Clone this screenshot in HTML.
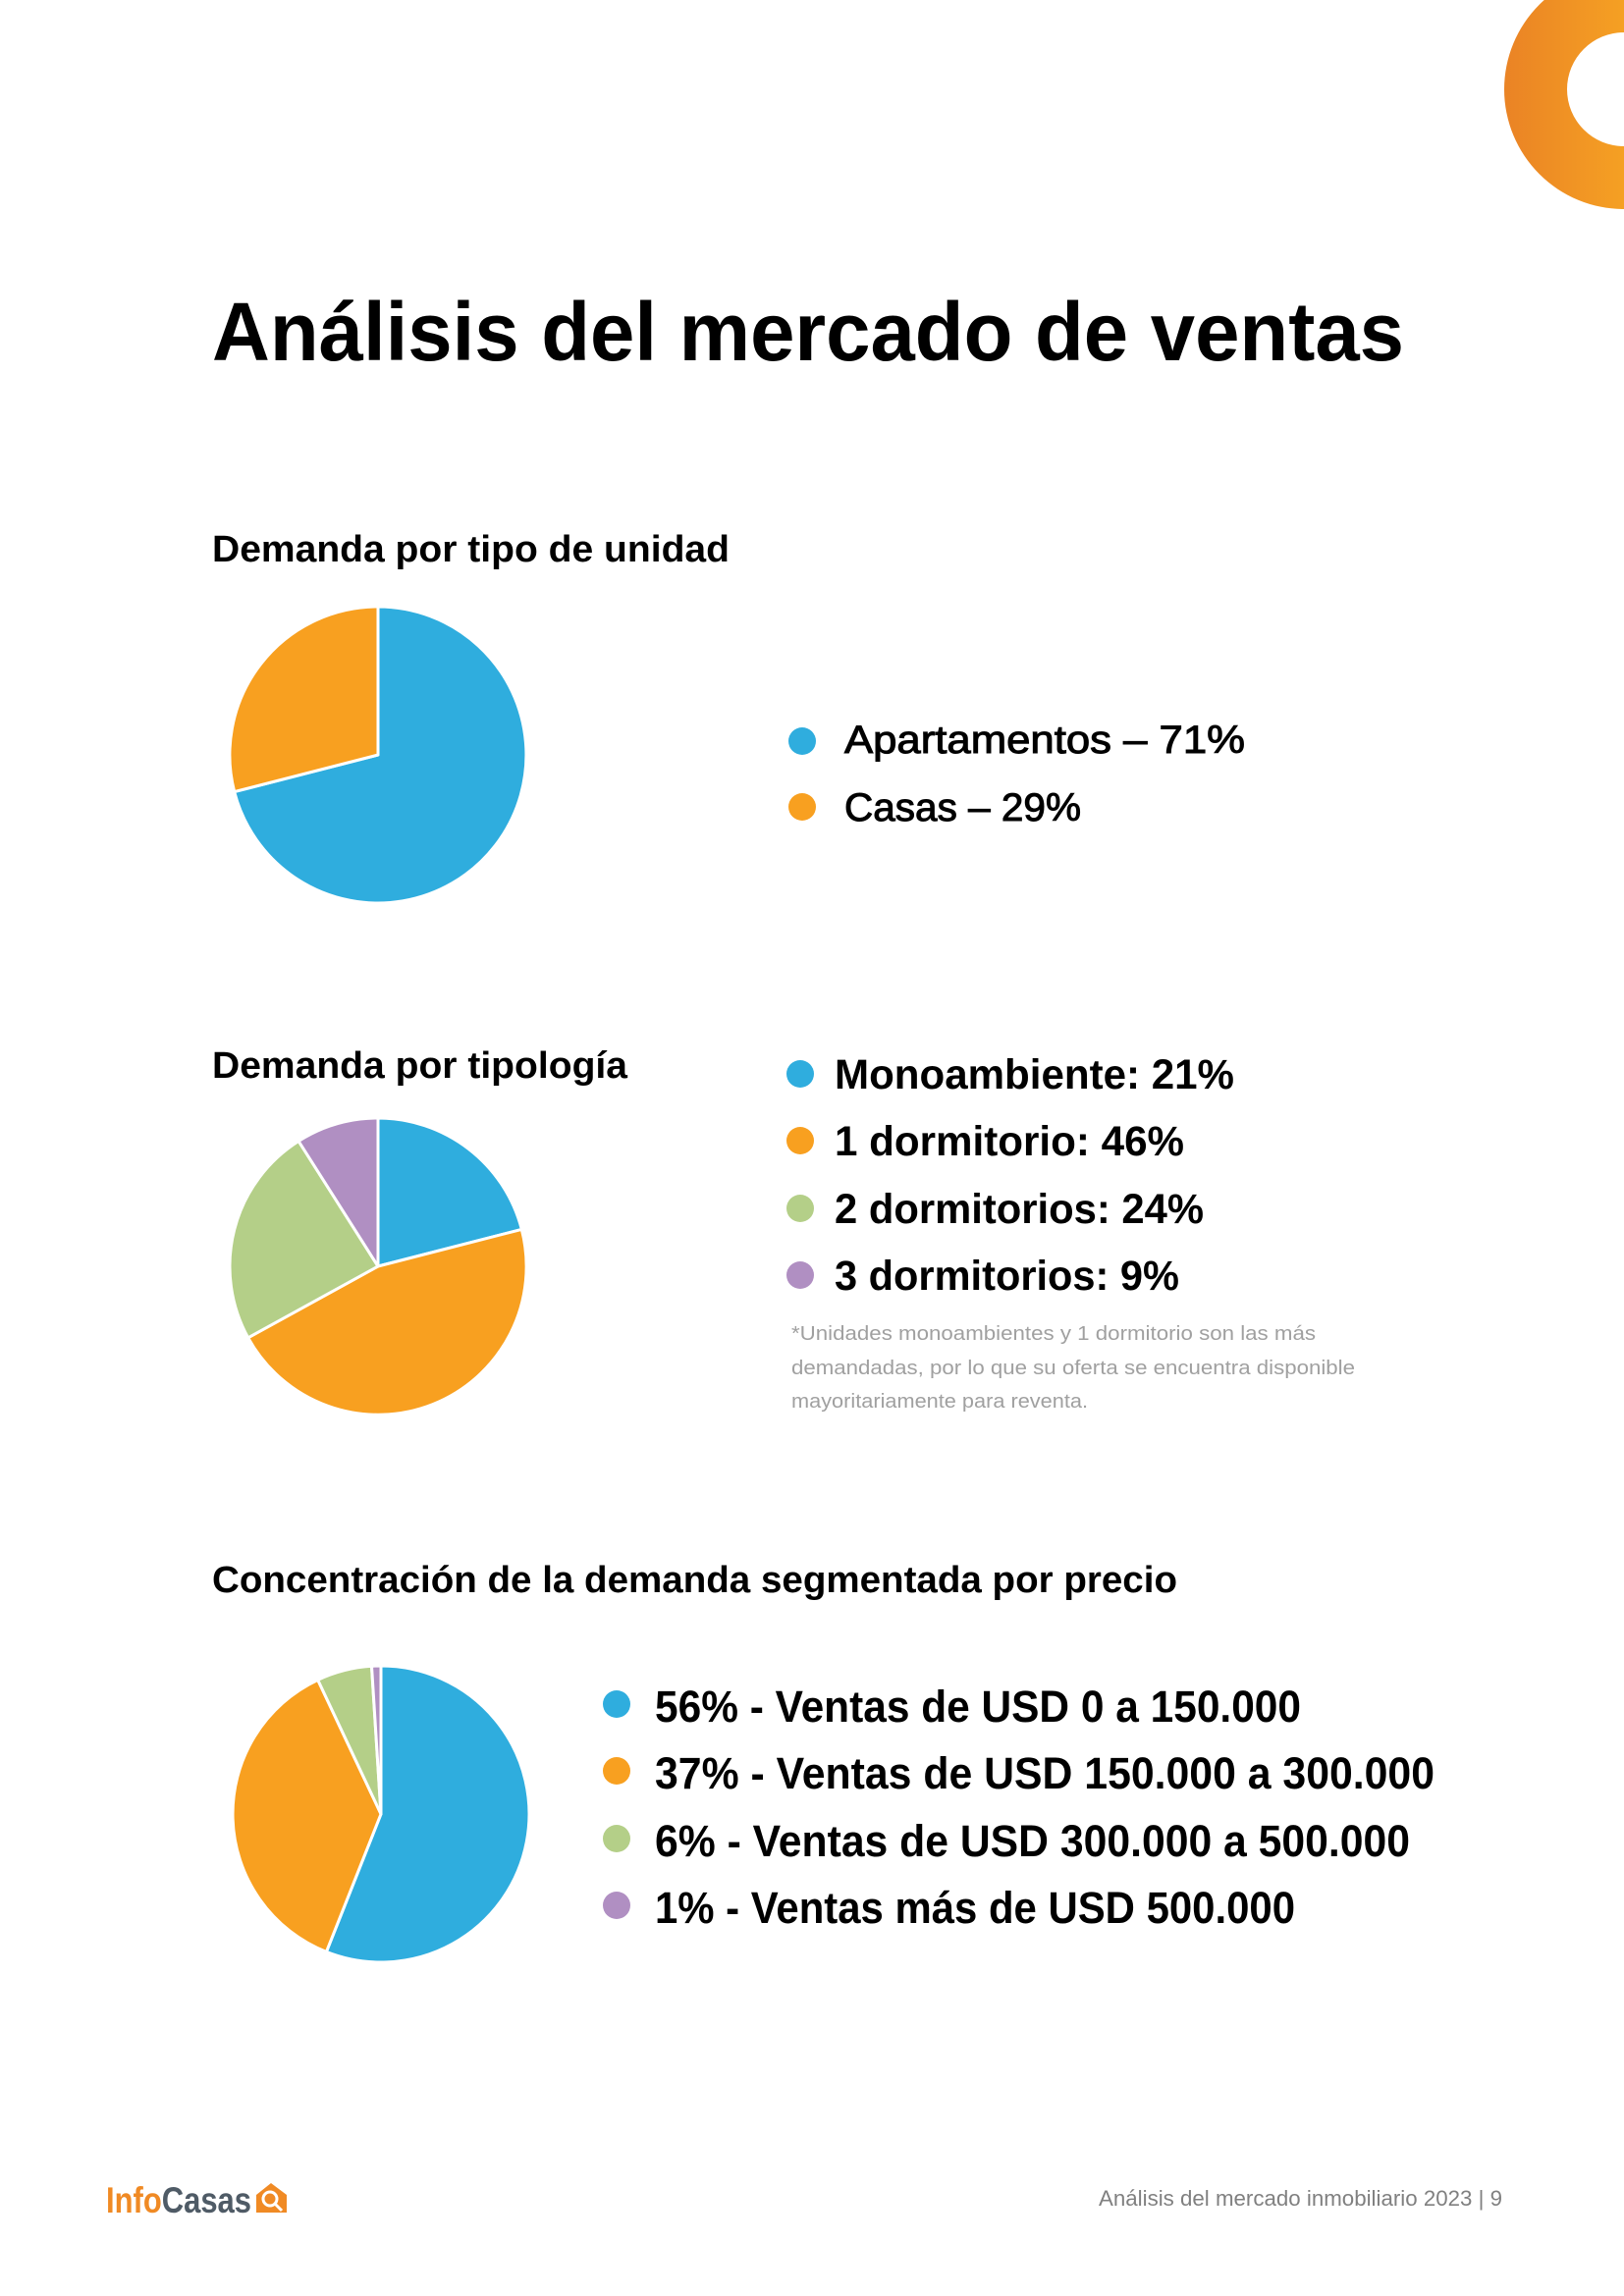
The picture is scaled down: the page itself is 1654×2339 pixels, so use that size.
<!DOCTYPE html>
<html><head><meta charset="utf-8"><style>
html,body{margin:0;padding:0;background:#fff}
svg{display:block}
text{font-family:"Liberation Sans",sans-serif}
</style></head><body>
<svg width="1654" height="2339" viewBox="0 0 1654 2339" xmlns="http://www.w3.org/2000/svg">
<defs><linearGradient id="g" x1="0" x2="1"><stop offset="0" stop-color="#ea8325"/><stop offset="1" stop-color="#f5a023"/></linearGradient></defs>
<rect width="1654" height="2339" fill="#fff"/>
<path d="M1654 -31 A122 122 0 0 0 1654 213 L1654 149 A58 58 0 0 1 1654 33 Z" fill="url(#g)"/>
<text x="216" y="367" font-size="84" font-weight="bold" fill="#000" textLength="1214" lengthAdjust="spacingAndGlyphs">Análisis del mercado de ventas</text>

<text x="216" y="572" font-size="38" font-weight="bold" fill="#000" textLength="527" lengthAdjust="spacingAndGlyphs">Demanda por tipo de unidad</text>
<g stroke="#fff" stroke-width="3" stroke-linejoin="round">
<path d="M385 769 L385 618 A151 151 0 1 1 238.7 806.6 Z" fill="#2fadde"/>
<path d="M385 769 L238.7 806.6 A151 151 0 0 1 385 618 Z" fill="#f8a020"/>
</g>
<circle cx="817" cy="755" r="14" fill="#2fadde"/>
<circle cx="817" cy="822" r="14" fill="#f8a020"/>
<g font-size="40" fill="#000" stroke="#000" stroke-width="1">
<text x="860" y="767" textLength="408" lengthAdjust="spacingAndGlyphs">Apartamentos – 71%</text>
<text x="860" y="836" textLength="241" lengthAdjust="spacingAndGlyphs">Casas – 29%</text>
</g>

<text x="216" y="1098" font-size="38" font-weight="bold" fill="#000" textLength="423" lengthAdjust="spacingAndGlyphs">Demanda por tipología</text>
<g stroke="#fff" stroke-width="3" stroke-linejoin="round">
<path d="M385 1290 L385 1139 A151 151 0 0 1 531.3 1252.4 Z" fill="#2fadde"/>
<path d="M385 1290 L531.3 1252.4 A151 151 0 0 1 252.7 1362.8 Z" fill="#f8a020"/>
<path d="M385 1290 L252.7 1362.8 A151 151 0 0 1 304.1 1162.5 Z" fill="#b4cf88"/>
<path d="M385 1290 L304.1 1162.5 A151 151 0 0 1 385 1139 Z" fill="#b08fc2"/>
</g>
<circle cx="815" cy="1094" r="14" fill="#2fadde"/>
<circle cx="815" cy="1162" r="14" fill="#f8a020"/>
<circle cx="815" cy="1231" r="14" fill="#b4cf88"/>
<circle cx="815" cy="1299" r="14" fill="#b08fc2"/>
<g font-size="43" font-weight="bold" fill="#000">
<text x="850" y="1109" textLength="407" lengthAdjust="spacingAndGlyphs">Monoambiente: 21%</text>
<text x="850" y="1177" textLength="356" lengthAdjust="spacingAndGlyphs">1 dormitorio: 46%</text>
<text x="850" y="1246" textLength="376" lengthAdjust="spacingAndGlyphs">2 dormitorios: 24%</text>
<text x="850" y="1314" textLength="351" lengthAdjust="spacingAndGlyphs">3 dormitorios: 9%</text>
</g>
<g font-size="20" fill="#a0a0a0">
<text x="806" y="1365" textLength="534" lengthAdjust="spacingAndGlyphs">*Unidades monoambientes y 1 dormitorio son las más</text>
<text x="806" y="1400" textLength="574" lengthAdjust="spacingAndGlyphs">demandadas, por lo que su oferta se encuentra disponible</text>
<text x="806" y="1434" textLength="302" lengthAdjust="spacingAndGlyphs">mayoritariamente para reventa.</text>
</g>

<text x="216" y="1622" font-size="38" font-weight="bold" fill="#000" textLength="983" lengthAdjust="spacingAndGlyphs">Concentración de la demanda segmentada por precio</text>
<g stroke="#fff" stroke-width="3" stroke-linejoin="round">
<path d="M388 1848 L388 1697 A151 151 0 1 1 332.4 1988.4 Z" fill="#2fadde"/>
<path d="M388 1848 L332.4 1988.4 A151 151 0 0 1 323.7 1711.4 Z" fill="#f8a020"/>
<path d="M388 1848 L323.7 1711.4 A151 151 0 0 1 378.5 1697.3 Z" fill="#b4cf88"/>
<path d="M388 1848 L378.5 1697.3 A151 151 0 0 1 388 1697 Z" fill="#b08fc2"/>
</g>
<circle cx="628" cy="1736" r="14" fill="#2fadde"/>
<circle cx="628" cy="1804" r="14" fill="#f8a020"/>
<circle cx="628" cy="1873" r="14" fill="#b4cf88"/>
<circle cx="628" cy="1941" r="14" fill="#b08fc2"/>
<g font-size="45" fill="#000" font-weight="bold">
<text x="667" y="1754" textLength="658" lengthAdjust="spacingAndGlyphs">56% - Ventas de USD 0 a 150.000</text>
<text x="667" y="1822" textLength="794" lengthAdjust="spacingAndGlyphs">37% - Ventas de USD 150.000 a 300.000</text>
<text x="667" y="1891" textLength="769" lengthAdjust="spacingAndGlyphs">6% - Ventas de USD 300.000 a 500.000</text>
<text x="667" y="1959" textLength="652" lengthAdjust="spacingAndGlyphs">1% - Ventas más de USD 500.000</text>
</g>

<text x="108" y="2254" font-size="37" font-weight="bold" textLength="148" lengthAdjust="spacingAndGlyphs"><tspan fill="#f08a24">Info</tspan><tspan fill="#4f5b66">Casas</tspan></text>
<path d="M261 2254 L261 2236 L276 2224 L292 2236 L292 2254 Z" fill="#f08a24"/>
<circle cx="275" cy="2240" r="7" fill="none" stroke="#fff" stroke-width="3"/>
<line x1="280" y1="2245" x2="287" y2="2252" stroke="#fff" stroke-width="3"/>
<text x="1119" y="2247" font-size="22" fill="#808080" textLength="411" lengthAdjust="spacingAndGlyphs">Análisis del mercado inmobiliario 2023 | 9</text>
</svg>
</body></html>
